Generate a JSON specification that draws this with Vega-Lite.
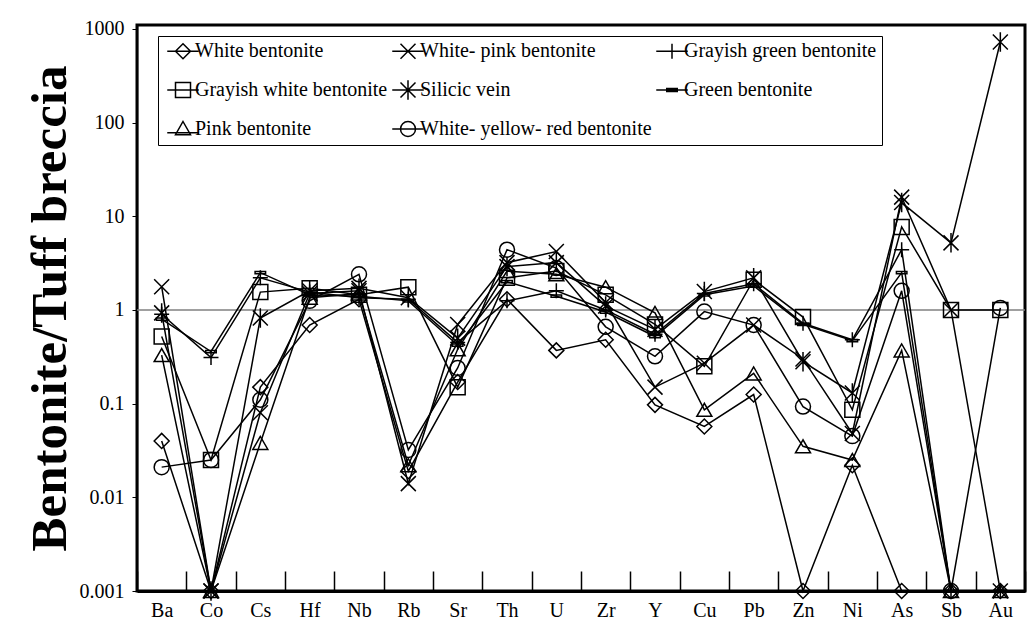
{
  "$schema": "https://vega.github.io/schema/vega-lite/v6.json",
  "width": 888,
  "height": 566,
  "autosize": "none",
  "padding": {"left": 137, "top": 25, "right": 4, "bottom": 44},
  "background": "white",
  "config": {
    "font": "Liberation Serif",
    "view": {"stroke": "black", "strokeWidth": 3},
    "axis": {"labelColor": "black", "tickColor": "black", "domainColor": "black", "labelFont": "Liberation Serif", "titleFont": "Liberation Serif", "titleColor": "black", "grid": false},
    "legend": {"labelFont": "Liberation Serif", "titleFont": "Liberation Serif"}
  },
  "data": {
    "values": [
      {"el": "Ba", "i": 0, "White bentonite": 0.04, "White- pink bentonite": 1.77, "Grayish green bentonite": 0.9, "Grayish white bentonite": 0.52, "Silicic vein": 0.93, "Green bentonite": 0.8, "Pink bentonite": 0.33, "White- yellow- red bentonite": 0.021},
      {"el": "Co", "i": 1, "White bentonite": 0.001, "White- pink bentonite": 0.001, "Grayish green bentonite": 0.31, "Grayish white bentonite": 0.025, "Silicic vein": 0.001, "Green bentonite": 0.36, "Pink bentonite": 0.001, "White- yellow- red bentonite": 0.025},
      {"el": "Cs", "i": 2, "White bentonite": 0.15, "White- pink bentonite": 0.08, "Grayish green bentonite": 2.2, "Grayish white bentonite": 1.55, "Silicic vein": 0.82, "Green bentonite": 2.5, "Pink bentonite": 0.038, "White- yellow- red bentonite": 0.11},
      {"el": "Hf", "i": 3, "White bentonite": 0.69, "White- pink bentonite": 1.5, "Grayish green bentonite": 1.55, "Grayish white bentonite": 1.7, "Silicic vein": 1.6, "Green bentonite": 1.45, "Pink bentonite": 1.35, "White- yellow- red bentonite": 1.25},
      {"el": "Nb", "i": 4, "White bentonite": 1.3, "White- pink bentonite": 1.6, "Grayish green bentonite": 1.35, "Grayish white bentonite": 1.45, "Silicic vein": 1.7, "Green bentonite": 1.4, "Pink bentonite": 1.5, "White- yellow- red bentonite": 2.4},
      {"el": "Rb", "i": 5, "White bentonite": 0.019, "White- pink bentonite": 0.014, "Grayish green bentonite": 1.3, "Grayish white bentonite": 1.75, "Silicic vein": 1.35, "Green bentonite": 1.25, "Pink bentonite": 0.022, "White- yellow- red bentonite": 0.032},
      {"el": "Sr", "i": 6, "White bentonite": 0.17, "White- pink bentonite": 0.7, "Grayish green bentonite": 0.45, "Grayish white bentonite": 0.15, "Silicic vein": 0.5, "Green bentonite": 0.42, "Pink bentonite": 0.38, "White- yellow- red bentonite": 0.24},
      {"el": "Th", "i": 7, "White bentonite": 1.3, "White- pink bentonite": 3.2, "Grayish green bentonite": 1.25, "Grayish white bentonite": 2.2, "Silicic vein": 2.9, "Green bentonite": 2.0, "Pink bentonite": 2.6, "White- yellow- red bentonite": 4.4},
      {"el": "U", "i": 8, "White bentonite": 0.37, "White- pink bentonite": 4.2, "Grayish green bentonite": 1.6, "Grayish white bentonite": 2.6, "Silicic vein": 3.2, "Green bentonite": 1.4, "Pink bentonite": 2.4, "White- yellow- red bentonite": 2.8},
      {"el": "Zr", "i": 9, "White bentonite": 0.48, "White- pink bentonite": 1.2, "Grayish green bentonite": 1.0, "Grayish white bentonite": 1.45, "Silicic vein": 1.1, "Green bentonite": 0.95, "Pink bentonite": 1.75, "White- yellow- red bentonite": 0.66},
      {"el": "Y", "i": 10, "White bentonite": 0.097, "White- pink bentonite": 0.15, "Grayish green bentonite": 0.55, "Grayish white bentonite": 0.7, "Silicic vein": 0.62, "Green bentonite": 0.52, "Pink bentonite": 0.93, "White- yellow- red bentonite": 0.32},
      {"el": "Cu", "i": 11, "White bentonite": 0.057, "White- pink bentonite": 0.27, "Grayish green bentonite": 1.5, "Grayish white bentonite": 0.25, "Silicic vein": 1.57, "Green bentonite": 1.45, "Pink bentonite": 0.086, "White- yellow- red bentonite": 0.96},
      {"el": "Pb", "i": 12, "White bentonite": 0.125, "White- pink bentonite": 0.69, "Grayish green bentonite": 1.9, "Grayish white bentonite": 2.1, "Silicic vein": 2.2, "Green bentonite": 1.8, "Pink bentonite": 0.21, "White- yellow- red bentonite": 0.69},
      {"el": "Zn", "i": 13, "White bentonite": 0.001, "White- pink bentonite": 0.3, "Grayish green bentonite": 0.72, "Grayish white bentonite": 0.84, "Silicic vein": 0.28, "Green bentonite": 0.7, "Pink bentonite": 0.035, "White- yellow- red bentonite": 0.093},
      {"el": "Ni", "i": 14, "White bentonite": 0.022, "White- pink bentonite": 0.048, "Grayish green bentonite": 0.48, "Grayish white bentonite": 0.086, "Silicic vein": 0.13, "Green bentonite": 0.47, "Pink bentonite": 0.025, "White- yellow- red bentonite": 0.045},
      {"el": "As", "i": 15, "White bentonite": 0.001, "White- pink bentonite": 16, "Grayish green bentonite": 4.4, "Grayish white bentonite": 7.7, "Silicic vein": 14, "Green bentonite": 2.5, "Pink bentonite": 0.37, "White- yellow- red bentonite": 1.6},
      {"el": "Sb", "i": 16, "White bentonite": 0.001, "White- pink bentonite": 1.0, "Grayish green bentonite": 0.001, "Grayish white bentonite": 1.0, "Silicic vein": 5.2, "Green bentonite": 0.001, "Pink bentonite": 0.001, "White- yellow- red bentonite": 0.001},
      {"el": "Au", "i": 17, "White bentonite": 0.001, "White- pink bentonite": 0.001, "Grayish green bentonite": 0.001, "Grayish white bentonite": 1.0, "Silicic vein": 725, "Green bentonite": 0.001, "Pink bentonite": 0.001, "White- yellow- red bentonite": 1.05}
    ]
  },
  "layer": [
    {
      "data": {"values": [{}]},
      "mark": {"type": "rule", "color": "#808080", "strokeWidth": 1.5},
      "encoding": {
        "y": {"datum": 1, "type": "quantitative", "scale": {"type": "log", "domain": [0.001, 1100], "nice": false}}
      }
    },
    {
      "transform": [
        {"fold": ["White bentonite", "White- pink bentonite", "Grayish green bentonite", "Grayish white bentonite", "Silicic vein", "Green bentonite", "Pink bentonite", "White- yellow- red bentonite"], "as": ["series", "value"]}
      ],
      "encoding": {
        "x": {
          "field": "el", "type": "nominal",
          "sort": ["Ba", "Co", "Cs", "Hf", "Nb", "Rb", "Sr", "Th", "U", "Zr", "Y", "Cu", "Pb", "Zn", "Ni", "As", "Sb", "Au"],
          "scale": {"type": "band", "paddingInner": 0, "paddingOuter": 0},
          "axis": {"title": null, "labelAngle": 0, "labelFontSize": 20, "tickBand": "extent", "tickSize": -20, "tickWidth": 1.5, "labelPadding": 29, "domainWidth": 3}
        },
        "y": {
          "field": "value", "type": "quantitative",
          "scale": {"type": "log", "domain": [0.001, 1100], "nice": false},
          "axis": {"title": "Bentonite/Tuff breccia", "titleFontSize": 51, "titleFontWeight": "bold", "titlePadding": 3, "values": [0.001, 0.01, 0.1, 1, 10, 100, 1000], "format": "~g", "labelFontSize": 20, "tickSize": 5, "labelPadding": 8, "domainWidth": 1.5}
        }
      },
      "resolve": {"scale": {"shape": "independent"}},
      "layer": [
        {
          "mark": {"type": "line", "color": "black", "strokeWidth": 1.5},
          "encoding": {
            "detail": {"field": "series"},
            "order": {"field": "i", "type": "quantitative"}
          }
        },
        {
          "mark": {"type": "point", "filled": false, "color": "black", "strokeWidth": 1.5, "size": 225, "opacity": 1},
          "encoding": {
            "shape": {
              "field": "series", "type": "nominal",
              "scale": {
                "domain": ["White bentonite", "White- pink bentonite", "Grayish green bentonite", "Grayish white bentonite", "Silicic vein", "Green bentonite", "Pink bentonite", "White- yellow- red bentonite"],
                "range": ["diamond", "M-1,-1L1,1M-1,1L1,-1", "M-1,0H1M0,-1V1", "square", "M-1,-1L1,1M-1,1L1,-1M0,-1.3V1.3", "M-0.7,-0.15H0.7V0.15H-0.7Z", "triangle-up", "circle"]
              },
              "legend": null
            }
          }
        },
        {
          "mark": {"type": "point", "filled": false, "color": "black", "strokeWidth": 1.5, "size": 225, "opacity": 0},
          "encoding": {
            "shape": {
              "field": "series", "type": "nominal",
              "scale": {
                "domain": ["White bentonite", "White- pink bentonite", "Grayish green bentonite", "Grayish white bentonite", "Silicic vein", "Green bentonite", "Pink bentonite", "White- yellow- red bentonite"],
                "range": [
                  "M-2.1,0H2.1M0,-1L1,0L0,1L-1,0Z",
                  "M-2.1,0H2.1M-1,-1L1,1M-1,1L1,-1",
                  "M-2.1,0H2.1M0,-1V1",
                  "M-2.1,0H2.1M-1,-1H1V1H-1Z",
                  "M-2.1,0H2.1M-1,-1L1,1M-1,1L1,-1M0,-1.3V1.3",
                  "M-2.1,0H2.1M-0.7,-0.2H0.7V0.2H-0.7Z",
                  "M-2.1,0.5H2.1M0,-1L1,0.75H-1Z",
                  "M-2.1,0H2.1M1,0A1,1,0,1,1,-1,0A1,1,0,1,1,1,0"
                ]
              },
              "legend": {
                "orient": "none", "legendX": 21, "legendY": 11, "columns": 3, "direction": "horizontal", "title": null,
                "labelFont": "Liberation Serif", "labelFontSize": 20, "labelColor": "black", "labelLimit": 400,
                "symbolSize": 225, "symbolStrokeWidth": 1.5, "symbolStrokeColor": "black", "symbolOpacity": 1,
                "strokeColor": "black", "fillColor": "white", "padding": 5, "rowPadding": 15, "columnPadding": -14,
                "symbolOffset": 10, "labelOffset": 2
              }
            }
          }
        }
      ]
    }
  ]
}
